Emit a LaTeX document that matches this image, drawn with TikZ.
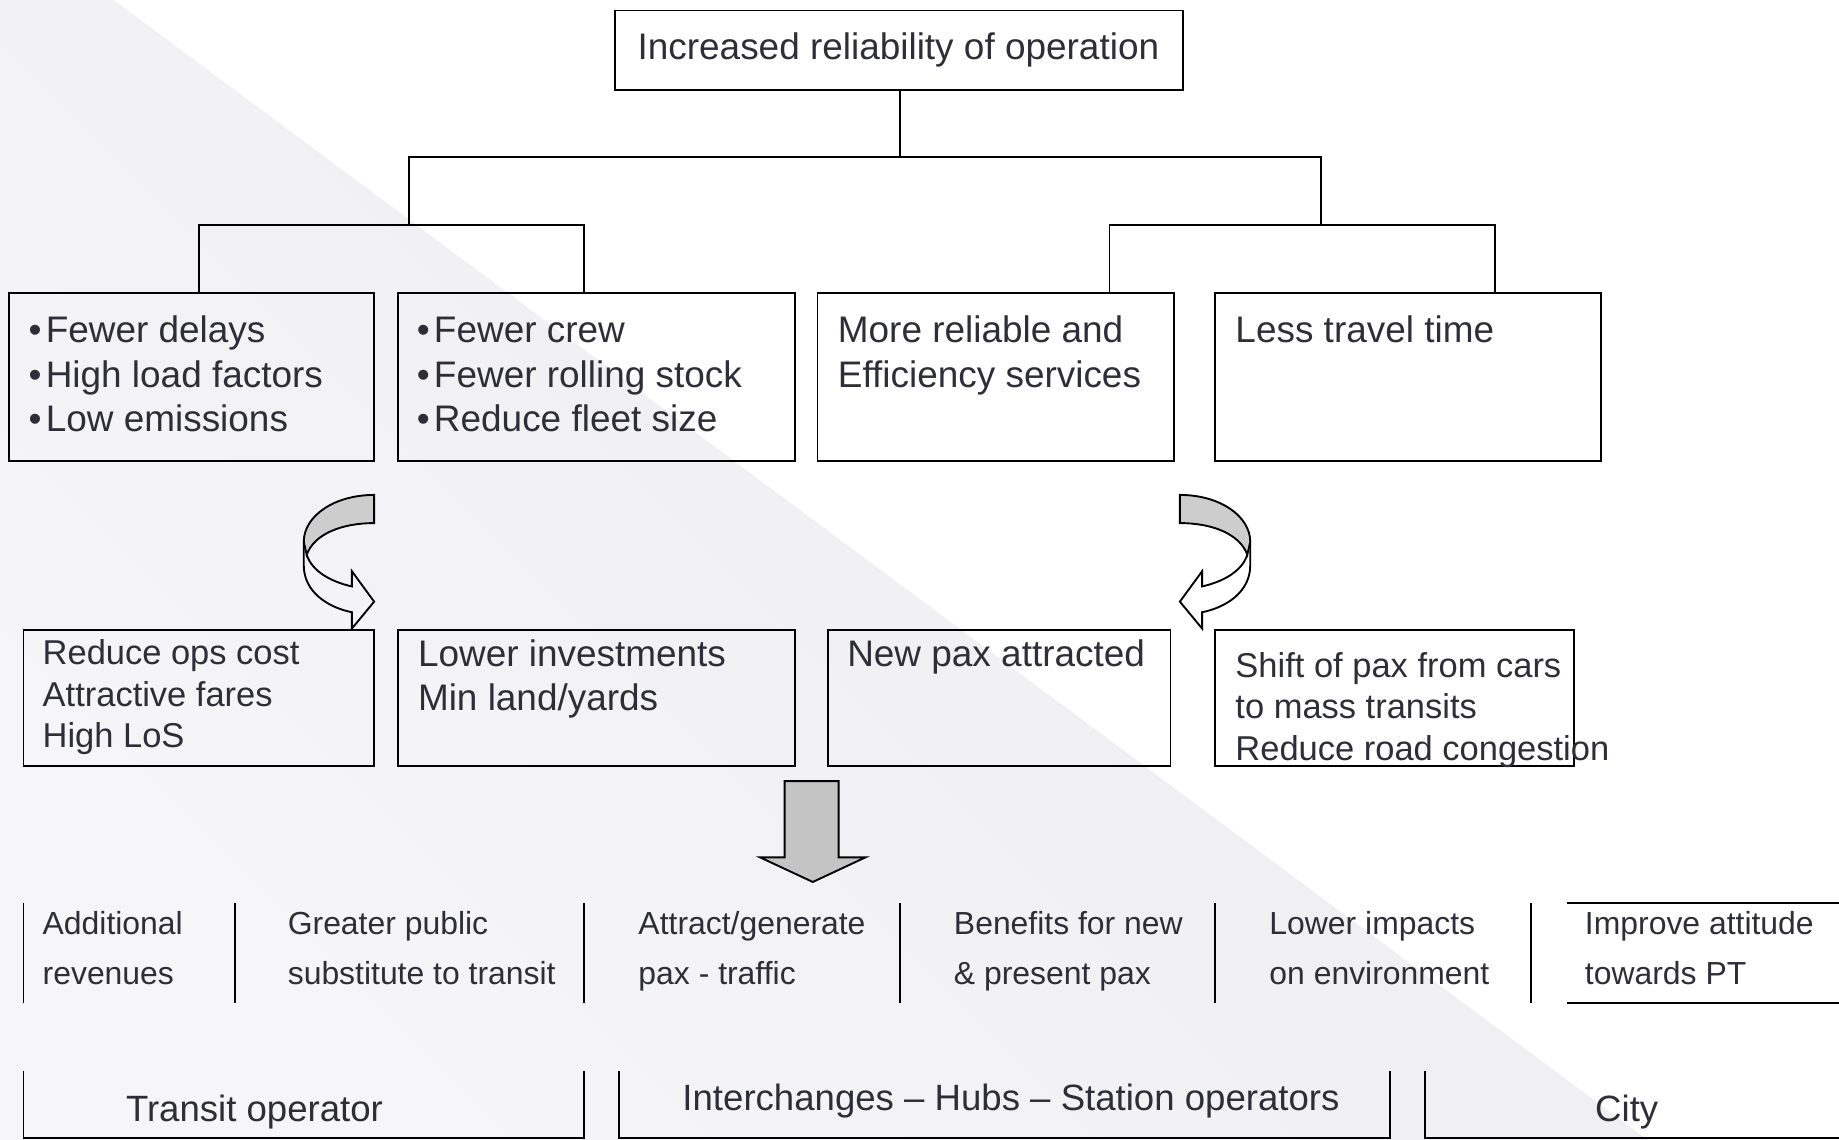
\documentclass[tikz,border=0pt]{standalone}
\usepackage{fontspec}
\setmainfont{Liberation Sans}
\usetikzlibrary{fit}
\definecolor{txtc}{HTML}{2E2E38}
\definecolor{bgd}{HTML}{ECECEE}
\definecolor{bgl}{HTML}{F6F6F8}
\definecolor{arrg}{HTML}{C4C4C4}
\definecolor{bandg}{HTML}{CDCDCD}
\newcommand{\bul}{•\kern1.8pt}
\tikzset{
  ln/.style={line width=0.8pt, draw=black},
  box/.style={ln, rectangle, inner sep=0pt},
  tx/.style={text=txtc, inner sep=0pt, anchor=base west, align=left, font=\fontsize{15.75}{19}\selectfont},
  txs/.style={tx, font=\fontsize{14.7}{17.75}\selectfont},
  txr/.style={tx, font=\fontsize{13.6}{21}\selectfont},
  txb/.style={tx, anchor=base, font=\fontsize{15.6}{19}\selectfont},
}
\begin{document}
\begin{tikzpicture}[x=0.5pt,y=-0.5pt]
\useasboundingbox (0,0) rectangle (1568,972);
% background
\shade[top color=bgd, bottom color=bgl, shading angle=-45] (0,0) -- (97,0) -- (1405,972) -- (0,972) -- cycle;

% top node
\node[box, fit={(524,9)(1009,77)}] (T) {};
\node[tx, anchor=base] (Tt) at (766,51) {Increased reliability of operation};

% row 1 (multi-line nodes: base = last line's baseline)
\node[box, fit={(8,250)(319,393)}] (A) {};
\node[box, fit={(339,250)(678,393)}] (B) {};
\node[box, fit={(697,250)(1001,393)}] (C) {};
\node[box, fit={(1036,250)(1365,393)}] (D) {};
\node[tx] (At) at (24,368) {\bul Fewer delays\\\bul High load factors\\\bul Low emissions};
\node[tx] (Bt) at (355,368) {\bul Fewer crew\\\bul Fewer rolling stock\\\bul Reduce fleet size};
\node[tx] (Ct) at (714,330) {More reliable and\\Efficiency services};
\node[tx] (Dt) at (1053,292) {Less travel time};

% tree connectors
\coordinate (j0) at (767,134);
\coordinate (jL) at (349,192);
\coordinate (jR) at (1126,192);
\coordinate (xa) at (170,0);
\coordinate (xb) at (498,0);
\coordinate (xc) at (946,0);
\coordinate (xd) at (1275,0);
\draw[ln] (T.south -| j0) -- (j0);
\draw[ln] (jL) |- (j0) -| (jR);
\draw[ln] (A.north -| xa) |- (jL) -| (B.north -| xb);
\draw[ln] (C.north -| xc) |- (jR) -| (D.north -| xd);

% curved arrows
\filldraw[ln, fill=bandg] (319,422) .. controls (285,422) and (259,440) .. (259,462)
   -- (261.5,473) .. controls (268,455) and (292,446) .. (319,446) -- cycle;
\draw[ln] (259,462) -- (259,482) .. controls (259,505) and (280,518) .. (300,522)
   -- (300,536) -- (319,513) -- (300,487) -- (300,500)
   .. controls (282,496) and (266,487) .. (261.5,473);
\filldraw[ln, fill=bandg] (1006,422) .. controls (1040,422) and (1066,440) .. (1066,462)
   -- (1063.5,473) .. controls (1057,455) and (1033,446) .. (1006,446) -- cycle;
\draw[ln] (1066,462) -- (1066,482) .. controls (1066,505) and (1045,518) .. (1025,522)
   -- (1025,536) -- (1006,513) -- (1025,487) -- (1025,500)
   .. controls (1043,496) and (1059,487) .. (1063.5,473);

% row 2
\node[box, fit={(20,537)(319,653)}] (E) {};
\node[box, fit={(339,537)(678,653)}] (F) {};
\node[box, fit={(706,537)(998,653)}] (G) {};
\node[box, fit={(1036,537)(1342,653)}] (H) {};
\node[txs] (Et) at (36,637.5) {Reduce ops cost\\Attractive fares\\High LoS};
\node[tx] (Ft) at (356,606) {Lower investments\\Min land/yards};
\node[tx] (Gt) at (722,568) {New pax attracted};
\node[txs] (Ht) at (1053,648.5) {Shift of pax from cars\\to mass transits\\Reduce road congestion};

% big down arrow
\filldraw[ln, fill=arrg] (669,666) -- (715,666) -- (715,731) -- (738,731) -- (693,752)
   -- (648,731) -- (669,731) -- cycle;

% row 3
\foreach \x in {20,200,498,767,1036,1305} {\draw[ln] (\x,770) -- (\x,855);}
\draw[ln] (1336,770) -- (1568,770);
\draw[ln] (1336,855) -- (1568,855);
\node[txr] (R1) at (36,839) {Additional\\revenues};
\node[txr] (R2) at (245,839) {Greater public\\substitute to transit};
\node[txr] (R3) at (544,839) {Attract/generate\\pax - traffic};
\node[txr] (R4) at (813,839) {Benefits for new\\\& present pax};
\node[txr] (R5) at (1082,839) {Lower impacts\\on environment};
\node[txr] (R6) at (1351,839) {Improve attitude\\towards PT};

% row 4
\draw[ln] (20,913) |- (498,970) -- (498,913);
\draw[ln] (528,913) |- (1185,970) -- (1185,913);
\draw[ln] (1215,913) |- (1568,970);
\node[txb] (S1) at (217,956) {Transit operator};
\node[txb] (S2) at (862,947) {Interchanges – Hubs – Station operators};
\node[txb] (S3) at (1387,956) {City};
\end{tikzpicture}
\end{document}
